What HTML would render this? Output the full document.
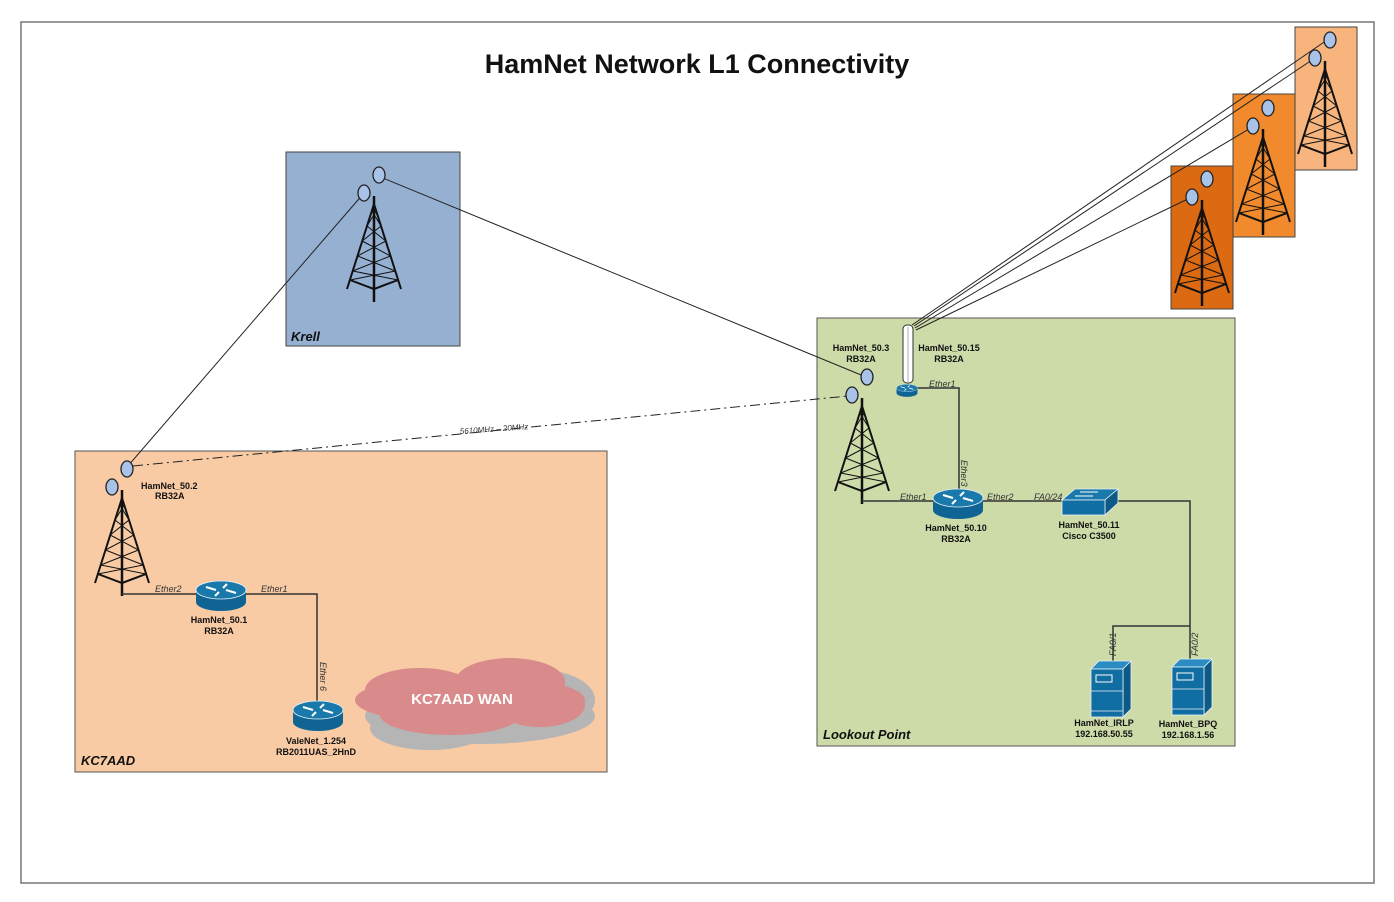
<!DOCTYPE html>
<html><head><meta charset="utf-8"><style>
html,body{margin:0;padding:0;background:#fff}
svg{display:block}
text{font-family:"Liberation Sans",Arial,sans-serif}
.b{font-size:9px;font-weight:bold;fill:#111}
.i{font-size:9px;font-style:italic;fill:#333}
</style></head><body>
<svg width="1394" height="902" viewBox="0 0 1394 902" xmlns="http://www.w3.org/2000/svg">
<defs>
<g id="tower">
 <g stroke="#111" fill="none">
  <line x1="0" y1="0" x2="0" y2="106" stroke-width="2.5"/>
  <line x1="0" y1="8" x2="-27" y2="93" stroke-width="2"/>
  <line x1="0" y1="8" x2="27" y2="93" stroke-width="2"/>
  <polyline points="-24,84 0,93 24,84" stroke-width="2"/>
  <g stroke-width="1">
   <line x1="-2.2" y1="15" x2="7" y2="30"/><line x1="2.2" y1="15" x2="-7" y2="30"/>
   <line x1="-7" y1="30" x2="11.8" y2="45"/><line x1="7" y1="30" x2="-11.8" y2="45"/>
   <line x1="-11.8" y1="45" x2="16.5" y2="60"/><line x1="11.8" y1="45" x2="-16.5" y2="60"/>
   <line x1="-16.5" y1="60" x2="21.3" y2="75"/><line x1="16.5" y1="60" x2="-21.3" y2="75"/>
   <line x1="-21.3" y1="75" x2="24" y2="84"/><line x1="21.3" y1="75" x2="-24" y2="84"/>
  </g>
 </g>
 <ellipse cx="5" cy="-21" rx="6" ry="8" fill="#a9c2e8" stroke="#222" stroke-width="1.3"/>
 <ellipse cx="-10" cy="-3" rx="6" ry="8" fill="#a9c2e8" stroke="#222" stroke-width="1.3"/>
</g>
<g id="router">
 <path d="M-25,0 L-25,12 A25,9 0 0 0 25,12 L25,0 Z" fill="#0f6494"/>
 <ellipse cx="0" cy="0" rx="25" ry="9" fill="#1a79ab" stroke="#e8f0f8" stroke-width="0.8"/>
 <g stroke="#fff" stroke-width="2">
  <line x1="-15" y1="-3" x2="-5" y2="0"/><line x1="15" y1="3" x2="5" y2="0"/>
  <line x1="-6" y1="6" x2="-2" y2="2"/><line x1="6" y1="-6" x2="2" y2="-2"/>
 </g>
</g>
<g id="server">
 <path d="M0,8 L8,0 L40,0 L32,8 Z" fill="#2b8cc4" stroke="#e8f0f8" stroke-width="0.8"/>
 <path d="M32,8 L40,0 L40,48 L32,56 Z" fill="#0d5a86" stroke="#e8f0f8" stroke-width="0.8"/>
 <rect x="0" y="8" width="32" height="48" fill="#106ea2" stroke="#e8f0f8" stroke-width="0.8"/>
 <rect x="5" y="14" width="16" height="7" fill="none" stroke="#fff" stroke-width="1"/>
 <line x1="0" y1="30" x2="32" y2="30" stroke="#e8f0f8" stroke-width="0.8"/>
 <line x1="0" y1="50" x2="32" y2="50" stroke="#e8f0f8" stroke-width="0.8"/>
</g>
</defs>

<rect x="21" y="22" width="1353" height="861" fill="#fff" stroke="#777" stroke-width="1.5"/>
<text x="697" y="73" text-anchor="middle" style="font-size:27px;font-weight:bold" fill="#111">HamNet Network L1 Connectivity</text>

<rect x="1295" y="27" width="62" height="143" fill="#f7b47c" stroke="#444"/>
<rect x="1233" y="94" width="62" height="143" fill="#f08a2c" stroke="#444"/>
<rect x="1171" y="166" width="62" height="143" fill="#dc6a12" stroke="#444"/>

<rect x="286" y="152" width="174" height="194" fill="#95b0d1" stroke="#444"/>
<text x="291" y="341" style="font-size:13px;font-weight:bold;font-style:italic" fill="#111">Krell</text>
<rect x="75" y="451" width="532" height="321" fill="#f9cba4" stroke="#555"/>
<text x="81" y="765" style="font-size:13px;font-weight:bold;font-style:italic" fill="#111">KC7AAD</text>
<rect x="817" y="318" width="418" height="428" fill="#cddba9" stroke="#555"/>
<text x="823" y="739" style="font-size:13px;font-weight:bold;font-style:italic" fill="#111">Lookout Point</text>

<g stroke="#222" stroke-width="1" fill="none">
 <line x1="378" y1="176" x2="866" y2="377"/>
 <line x1="364" y1="193" x2="127" y2="467"/>
 <line x1="912" y1="325" x2="1330" y2="38"/>
 <line x1="914" y1="326" x2="1315" y2="58"/>
 <line x1="915" y1="328" x2="1254" y2="126"/>
 <line x1="916" y1="330" x2="1192" y2="197"/>
 <line x1="133" y1="466" x2="848" y2="396" stroke-dasharray="10,4,2,4"/>
</g>
<text x="0" y="0" class="i" transform="translate(460,434) rotate(-4)" style="font-size:8px">5610MHz – 20MHz</text>

<use href="#tower" x="374" y="196"/>
<use href="#tower" x="122" y="490"/>
<use href="#tower" x="862" y="398"/>
<use href="#tower" x="1325" y="61"/>
<use href="#tower" x="1263" y="129"/>
<use href="#tower" x="1202" y="200"/>

<g stroke="#333" stroke-width="1.5" fill="none">
 <polyline points="122,594 317,594 317,703"/>
 <polyline points="862,501 1190,501 1190,660"/>
 <polyline points="1190,626 1113,626 1113,662"/>
 <polyline points="916,388 959,388 959,492"/>
</g>
<text class="i" x="155" y="592">Ether2</text>
<text class="i" x="261" y="592">Ether1</text>
<text class="i" x="0" y="0" transform="translate(320,662) rotate(90)">Ether 6</text>
<text class="b" x="141" y="489">HamNet_50.2</text>
<text class="b" x="155" y="499">RB32A</text>

<g fill="#b5b5b5">
 <ellipse cx="480" cy="716" rx="115" ry="28"/><ellipse cx="540" cy="700" rx="55" ry="30"/><ellipse cx="430" cy="728" rx="60" ry="22"/>
</g>
<g fill="#d98a8a">
 <ellipse cx="470" cy="700" rx="115" ry="25"/><ellipse cx="420" cy="690" rx="55" ry="22"/><ellipse cx="510" cy="682" rx="55" ry="24"/>
 <ellipse cx="540" cy="705" rx="45" ry="22"/><ellipse cx="450" cy="715" rx="70" ry="20"/>
</g>
<text x="462" y="704" text-anchor="middle" style="font-size:15px;font-weight:bold" fill="#fff">KC7AAD WAN</text>

<use href="#router" x="221" y="590"/>
<text class="b" x="219" y="623" text-anchor="middle">HamNet_50.1</text>
<text class="b" x="219" y="634" text-anchor="middle">RB32A</text>
<use href="#router" x="318" y="710"/>
<text class="b" x="316" y="744" text-anchor="middle">ValeNet_1.254</text>
<text class="b" x="316" y="755" text-anchor="middle">RB2011UAS_2HnD</text>

<rect x="903" y="325" width="10" height="58" rx="4" fill="#fff" stroke="#333"/>
<line x1="908" y1="327" x2="908" y2="382" stroke="#999" stroke-width="0.8"/>
<use href="#router" transform="translate(907,388) scale(0.42)"/>
<text class="b" x="861" y="351" text-anchor="middle">HamNet_50.3</text>
<text class="b" x="861" y="362" text-anchor="middle">RB32A</text>
<text class="b" x="949" y="351" text-anchor="middle">HamNet_50.15</text>
<text class="b" x="949" y="362" text-anchor="middle">RB32A</text>
<text class="i" x="929" y="387">Ether1</text>
<text class="i" x="0" y="0" transform="translate(961,460) rotate(90)">Ether3</text>
<text class="i" x="900" y="500">Ether1</text>
<text class="i" x="987" y="500">Ether2</text>
<text class="i" x="1034" y="500">FA0/24</text>
<use href="#router" x="958" y="498"/>
<text class="b" x="956" y="531" text-anchor="middle">HamNet_50.10</text>
<text class="b" x="956" y="542" text-anchor="middle">RB32A</text>
<path d="M1062,500 L1075,489 L1118,489 L1105,500 Z" fill="#1a79ab" stroke="#e8f0f8" stroke-width="0.8"/>
<path d="M1105,500 L1118,489 L1118,503 L1105,515 Z" fill="#0d5a86" stroke="#e8f0f8" stroke-width="0.8"/>
<rect x="1062" y="500" width="43" height="15" fill="#106ea2" stroke="#e8f0f8" stroke-width="0.8"/>
<g stroke="#fff" stroke-width="1"><line x1="1080" y1="492" x2="1098" y2="492"/><line x1="1075" y1="496" x2="1093" y2="496"/></g>
<text class="b" x="1089" y="528" text-anchor="middle">HamNet_50.11</text>
<text class="b" x="1089" y="539" text-anchor="middle">Cisco C3500</text>
<text class="i" x="0" y="0" transform="translate(1116,656) rotate(-90)">FA0/1</text>
<text class="i" x="0" y="0" transform="translate(1198,656) rotate(-90)">FA0/2</text>
<use href="#server" x="1091" y="661"/>
<use href="#server" x="1172" y="659"/>
<text class="b" x="1104" y="726" text-anchor="middle">HamNet_IRLP</text>
<text class="b" x="1104" y="737" text-anchor="middle">192.168.50.55</text>
<text class="b" x="1188" y="727" text-anchor="middle">HamNet_BPQ</text>
<text class="b" x="1188" y="738" text-anchor="middle">192.168.1.56</text>
</svg>
</body></html>
